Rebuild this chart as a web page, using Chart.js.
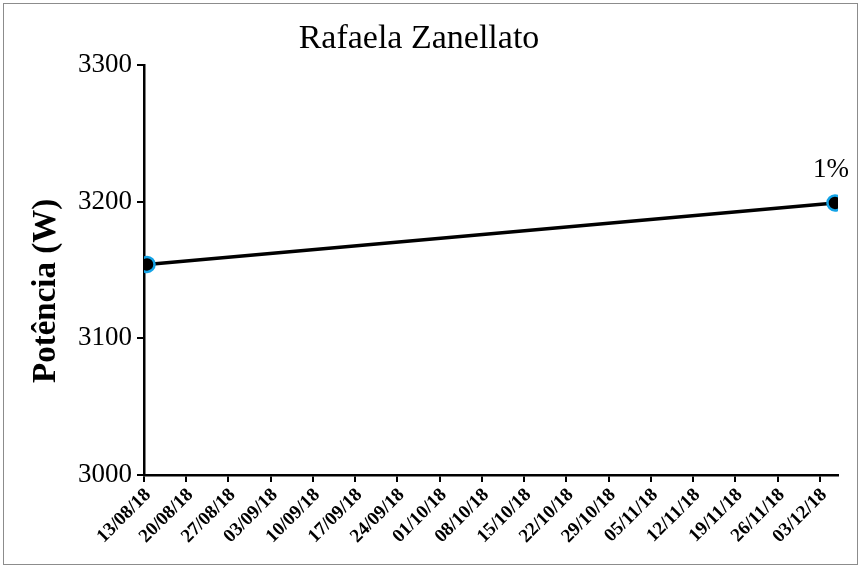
<!DOCTYPE html>
<html lang="pt-BR">
<head>
<meta charset="UTF-8">
<title>Rafaela Zanellato</title>
<script src="https://cdn.jsdelivr.net/npm/chart.js@4.4.1/dist/chart.umd.min.js"></script>
<style>
  html, body { margin: 0; padding: 0; background: #fff; }
  #wrap { width: 861px; height: 568px; }
</style>
</head>
<body>
<div id="wrap"><canvas id="chart" width="861" height="568"></canvas></div>
<script>
// chart data
const chartTitle = 'Rafaela Zanellato';
const yTitle = 'Potência (W)';
const dates = ['13/08/18', '05/12/18'];
const power = [3154, 3199];
const pointLabels = ['', '1%'];
const weekLabels = ['13/08/18', '20/08/18', '27/08/18', '03/09/18', '10/09/18', '17/09/18',
  '24/09/18', '01/10/18', '08/10/18', '15/10/18', '22/10/18', '29/10/18', '05/11/18',
  '12/11/18', '19/11/18', '26/11/18', '03/12/18'];
const axisEnd = '06/12/18';

const serif = 'Liberation Serif, Times New Roman, serif';

// days since the first week label
function dayOf(s) {
    const [d, m, y] = s.split('/').map(Number);
    const t = Date.UTC(2000 + y, m - 1, d);
    const [d0, m0, y0] = weekLabels[0].split('/').map(Number);
    return Math.round((t - Date.UTC(2000 + y0, m0 - 1, d0)) / 86400000);
}

// each day sits between two day marks, like the spreadsheet date axis
const points = dates.map((s, i) => ({ x: dayOf(s) + 0.5, y: power[i] }));

const framePlugin = {
    id: 'frame',
    beforeDraw(chart) {
        const c = chart.ctx;
        c.save();
        c.fillStyle = '#fff';
        c.fillRect(0, 0, chart.width, chart.height);
        c.strokeStyle = '#8c8c8c';
        c.lineWidth = 1;
        c.strokeRect(3.5, 3.5, chart.width - 7, chart.height - 7);
        c.restore();
    }
};

// "1%" above the last point, and the y title (sits a bit below the axis middle)
const textPlugin = {
    id: 'extraText',
    afterDatasetsDraw(chart) {
        const c = chart.ctx;
        const meta = chart.getDatasetMeta(0);
        const area = chart.chartArea;
        c.save();
        c.fillStyle = '#000';
        c.textAlign = 'center';
        c.textBaseline = 'middle';
        c.font = '27px ' + serif;
        meta.data.forEach((pt, i) => {
            if (pointLabels[i]) c.fillText(pointLabels[i], pt.x - 4, pt.y - 33);
        });
        c.font = 'bold 33px ' + serif;
        c.translate(46, (area.top + area.bottom) / 2 + 21);
        c.rotate(-Math.PI / 2);
        c.fillText(yTitle, 0, 0);
        c.restore();
    }
};

new Chart(document.getElementById('chart'), {
    type: 'line',
    data: {
        datasets: [{
            data: points,
            borderColor: '#000',
            borderWidth: 3.5,
            pointRadius: 7.5,
            pointBorderWidth: 2.5,
            pointBackgroundColor: '#000',
            pointBorderColor: '#14a3e6',
            tension: 0
        }]
    },
    options: {
        responsive: false,
        animation: false,
        layout: { padding: { left: 0, right: 23, top: 0, bottom: 0 } },
        plugins: {
            legend: { display: false },
            tooltip: { enabled: false },
            title: {
                display: true,
                text: chartTitle,
                color: '#000',
                font: { family: serif, size: 34, weight: 'normal' },
                padding: { top: 19, bottom: 5 }
            }
        },
        scales: {
            x: {
                type: 'linear',
                min: 0,
                max: dayOf(axisEnd),
                afterBuildTicks(scale) {
                    scale.ticks = weekLabels.map(l => ({ value: dayOf(l) }));
                },
                afterFit(scale) { scale.height = 93; },
                ticks: {
                    includeBounds: false,
                    autoSkip: false,
                    minRotation: 45,
                    maxRotation: 45,
                    padding: 2,
                    labelOffset: 4,
                    color: '#000',
                    font: { family: serif, size: 19, weight: 'bold' },
                    callback: (v, i) => weekLabels[i]
                },
                grid: { drawOnChartArea: false, drawTicks: true, tickLength: 7, color: '#000', lineWidth: 2 },
                border: { display: true, color: '#000', width: 2.5 }
            },
            y: {
                min: 3000,
                max: 3300,
                afterFit(scale) { scale.width = 144; },
                ticks: {
                    stepSize: 100,
                    padding: 5,
                    color: '#000',
                    font: { family: serif, size: 27 },
                    callback: v => String(v)
                },
                grid: { drawOnChartArea: false, drawTicks: true, tickLength: 7, color: '#000', lineWidth: 2 },
                border: { display: true, color: '#000', width: 2.5 }
            }
        }
    },
    plugins: [framePlugin, textPlugin]
});
</script>
</body>
</html>
